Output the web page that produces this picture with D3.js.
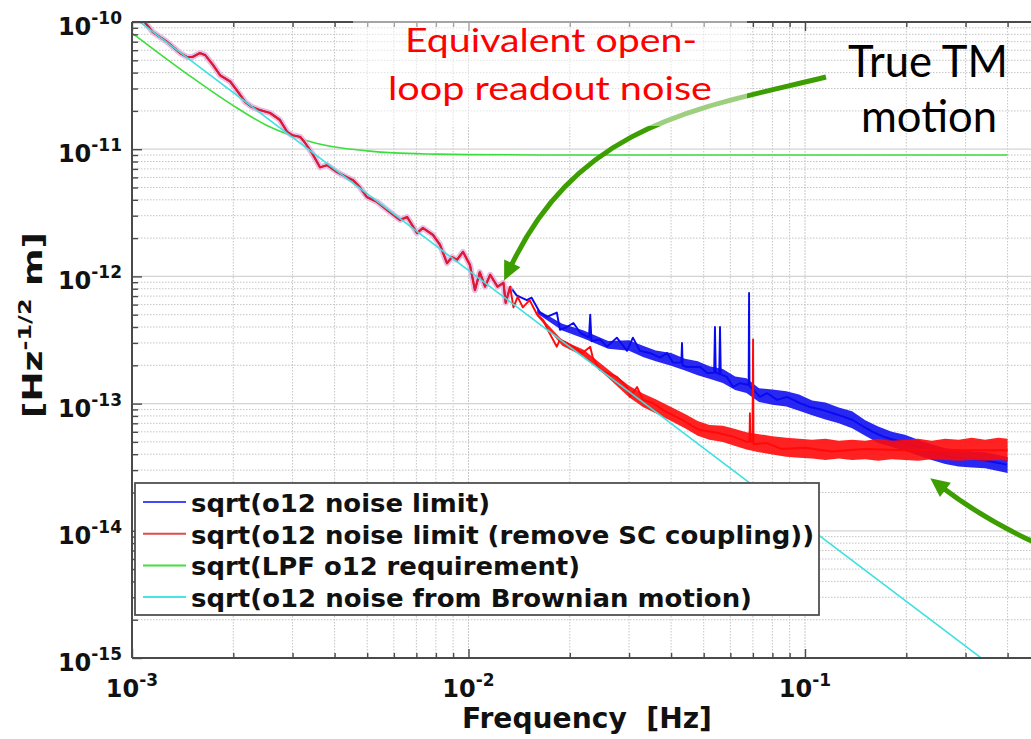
<!DOCTYPE html>
<html>
<head>
<meta charset="utf-8">
<script src="https://cdn.jsdelivr.net/npm/d3@7"></script>
<style>
  html, body { margin: 0; padding: 0; background: #fff; }
  svg { display: block; }
</style>
</head>
<body>
<svg id="chart" width="1031" height="739"></svg>
<script>
// ---------------- data ----------------
const xDecades = [1e-3, 1e-2, 1e-1];
const xTickLabels = ["-3", "-2", "-1"];
const yDecades = [1e-15, 1e-14, 1e-13, 1e-12, 1e-11, 1e-10];
const yTickLabels = ["-15", "-14", "-13", "-12", "-11", "-10"];

// Low-frequency part where both noise-limit estimates coincide
const sharedFreq = [1.00e-3, 1.09e-3, 1.155e-3, 1.27e-3, 1.39e-3, 1.46e-3, 1.51e-3, 1.59e-3, 1.65e-3, 1.74e-3,
  1.83e-3, 1.96e-3, 2.07e-3, 2.17e-3, 2.27e-3, 2.40e-3, 2.57e-3, 2.75e-3, 2.89e-3, 2.99e-3,
  3.16e-3, 3.27e-3, 3.43e-3, 3.62e-3, 3.80e-3, 4.07e-3, 4.36e-3, 4.54e-3, 4.76e-3, 4.99e-3,
  5.35e-3, 5.73e-3, 6.26e-3, 6.57e-3, 7.03e-3, 7.32e-3, 7.84e-3, 8.23e-3, 8.63e-3, 8.93e-3,
  9.24e-3, 9.63e-3, 1.01e-2, 1.045e-2, 1.08e-2, 1.12e-2, 1.16e-2, 1.22e-2, 1.27e-2, 1.29e-2, 1.33e-2];
const sharedVal = [1.25e-10, 1.00e-10, 8.3e-11, 7.0e-11, 5.7e-11, 5.3e-11, 5.3e-11, 5.7e-11, 5.5e-11, 4.6e-11,
  3.8e-11, 3.4e-11, 2.8e-11, 2.35e-11, 2.15e-11, 2.03e-11, 1.93e-11, 1.70e-11, 1.37e-11, 1.29e-11,
  1.25e-11, 1.12e-11, 9.3e-12, 7.2e-12, 7.5e-12, 6.6e-12, 6.0e-12, 5.7e-12, 5.0e-12, 4.2e-12,
  3.85e-12, 3.33e-12, 2.78e-12, 2.93e-12, 2.19e-12, 2.40e-12, 2.12e-12, 1.77e-12, 1.27e-12, 1.42e-12,
  1.35e-12, 1.56e-12, 1.23e-12, 7.8e-13, 1.08e-12, 8.3e-13, 1.03e-12, 8.3e-13, 8.9e-13, 6.2e-13, 8.3e-13];

// sqrt(o12 noise limit) above the shared part
const blueFreq = [1.39e-2, 1.49e-2, 1.54e-2, 1.63e-2, 1.71e-2, 1.83e-2, 1.87e-2, 1.96e-2, 2.05e-2, 2.15e-2,
  2.28e-2, 2.30e-2, 2.32e-2, 2.46e-2, 2.58e-2, 2.76e-2, 2.96e-2, 3.08e-2, 3.23e-2, 3.46e-2,
  3.71e-2, 3.89e-2, 4.05e-2, 4.29e-2, 4.31e-2, 4.33e-2, 4.46e-2, 4.88e-2, 5.12e-2, 5.37e-2,
  5.40e-2, 5.43e-2, 5.48e-2, 5.56e-2, 5.59e-2, 5.62e-2, 5.86e-2, 6.11e-2, 6.41e-2, 6.80e-2,
  6.82e-2, 6.84e-2, 7.35e-2, 7.71e-2, 8.26e-2, 8.84e-2, 9.66e-2, 0.1035, 0.113, 0.121,
  0.130, 0.139, 0.149, 0.159, 0.171, 0.183, 0.201, 0.220, 0.240, 0.270,
  0.303, 0.338, 0.380, 0.398];
const blueVal = [7.1e-13, 6.5e-13, 6.8e-13, 5.2e-13, 4.8e-13, 5.2e-13, 3.8e-13, 4.0e-13, 4.3e-13, 3.6e-13,
  3.3e-13, 5.0e-13, 3.1e-13, 3.2e-13, 2.8e-13, 3.3e-13, 2.6e-13, 3.3e-13, 2.6e-13, 2.5e-13,
  2.3e-13, 2.5e-13, 2.1e-13, 2.1e-13, 3.0e-13, 2.0e-13, 1.94e-13, 1.94e-13, 1.74e-13, 1.75e-13,
  4.0e-13, 1.75e-13, 1.74e-13, 1.7e-13, 4.0e-13, 1.7e-13, 1.62e-13, 1.35e-13, 1.45e-13, 1.4e-13,
  7.4e-13, 1.38e-13, 1.13e-13, 1.21e-13, 1.07e-13, 1.13e-13, 1.01e-13, 9.4e-14, 8.9e-14, 8.4e-14,
  7.9e-14, 7.4e-14, 6.6e-14, 6.0e-14, 5.5e-14, 5.2e-14, 4.9e-14, 4.5e-14, 4.1e-14, 3.8e-14,
  3.7e-14, 3.6e-14, 3.4e-14, 3.3e-14];

// sqrt(o12 noise limit (remove SC coupling)) above the shared part
const redFreq = [1.36e-2, 1.40e-2, 1.45e-2, 1.52e-2, 1.60e-2, 1.67e-2, 1.72e-2, 1.83e-2, 1.87e-2, 1.96e-2,
  2.05e-2, 2.18e-2, 2.30e-2, 2.34e-2, 2.46e-2, 2.58e-2, 2.76e-2, 2.96e-2, 3.02e-2, 3.17e-2,
  3.30e-2, 3.53e-2, 3.79e-2, 4.05e-2, 4.34e-2, 4.65e-2, 4.88e-2, 5.48e-2, 6.11e-2, 6.72e-2,
  6.84e-2, 6.86e-2, 6.88e-2, 6.98e-2, 7.01e-2, 7.03e-2, 7.71e-2, 8.5e-2, 0.100, 0.120,
  0.150, 0.200, 0.250, 0.300, 0.400];
const redVal = [5.7e-13, 6.9e-13, 5.7e-13, 6.5e-13, 5.0e-13, 4.5e-13, 3.8e-13, 2.8e-13, 3.2e-13, 3.0e-13,
  2.8e-13, 2.5e-13, 2.8e-13, 2.3e-13, 1.84e-13, 1.74e-13, 1.62e-13, 1.35e-13, 1.13e-13, 1.35e-13,
  1.07e-13, 1.01e-13, 8.9e-14, 8.1e-14, 7.4e-14, 6.6e-14, 6.2e-14, 5.9e-14, 5.5e-14, 5.0e-14,
  5.0e-14, 8.4e-14, 5.0e-14, 5.0e-14, 3.2e-13, 4.8e-14, 4.9e-14, 4.4e-14, 4.5e-14, 4.2e-14,
  4.4e-14, 4.3e-14, 4.35e-14, 4.3e-14, 4.3e-14];

// spread of the dense high-frequency spectra
const bandFreq = [0.016, 0.019, 0.022, 0.026, 0.030, 0.033, 0.036, 0.040, 0.044, 0.048,
  0.052, 0.057, 0.062, 0.067, 0.073, 0.080, 0.088, 0.096, 0.105, 0.115,
  0.126, 0.138, 0.151, 0.165, 0.181, 0.198, 0.217, 0.238, 0.261, 0.286,
  0.313, 0.343, 0.375, 0.400];
const blueUpper = [5.5e-13, 4.25e-13, 3.75e-13, 3.1e-13, 3.15e-13, 2.85e-13, 2.62e-13, 2.5e-13, 2.25e-13, 2.15e-13,
  1.97e-13, 1.87e-13, 1.63e-13, 1.58e-13, 1.32e-13, 1.29e-13, 1.25e-13, 1.18e-13, 1.06e-13, 1.02e-13,
  9.3e-14, 8.7e-14, 7.4e-14, 6.6e-14, 6.0e-14, 5.7e-14, 5.2e-14, 4.8e-14, 4.45e-14, 4.35e-14,
  4.2e-14, 4.15e-14, 3.95e-14, 3.8e-14];
const blueLower = [5.1e-13, 3.75e-13, 3.25e-13, 2.7e-13, 2.6e-13, 2.32e-13, 2.15e-13, 1.98e-13, 1.82e-13, 1.67e-13,
  1.57e-13, 1.45e-13, 1.28e-13, 1.21e-13, 1.03e-13, 9.8e-14, 9.5e-14, 8.8e-14, 8.1e-14, 7.5e-14,
  7.0e-14, 6.4e-14, 5.6e-14, 4.9e-14, 4.55e-14, 4.25e-14, 3.9e-14, 3.6e-14, 3.35e-14, 3.2e-14,
  3.15e-14, 3.1e-14, 2.95e-14, 2.85e-14];
const redUpper = [5.15e-13, 3.15e-13, 2.65e-13, 1.85e-13, 1.38e-13, 1.2e-13, 1.08e-13, 9.4e-14, 8.3e-14, 7.3e-14,
  6.8e-14, 6.7e-14, 6.3e-14, 5.95e-14, 5.75e-14, 5.55e-14, 5.4e-14, 5.3e-14, 5.2e-14, 5.3e-14,
  5.1e-14, 5.2e-14, 5.1e-14, 5.3e-14, 5.1e-14, 5.2e-14, 5.3e-14, 5.1e-14, 5.3e-14, 5.2e-14,
  5.4e-14, 5.2e-14, 5.4e-14, 5.3e-14];
const redLower = [4.85e-13, 2.85e-13, 2.35e-13, 1.6e-13, 1.12e-13, 9.4e-14, 8.4e-14, 7.3e-14, 6.4e-14, 5.6e-14,
  5.2e-14, 5.0e-14, 4.65e-14, 4.35e-14, 4.15e-14, 3.98e-14, 3.82e-14, 3.75e-14, 3.7e-14, 3.6e-14,
  3.7e-14, 3.6e-14, 3.65e-14, 3.55e-14, 3.65e-14, 3.6e-14, 3.55e-14, 3.65e-14, 3.6e-14, 3.55e-14,
  3.6e-14, 3.55e-14, 3.6e-14, 3.55e-14];

// sqrt(LPF o12 requirement)
const reqFreq = [1.0e-3, 1.2e-3, 1.5e-3, 2.0e-3, 2.5e-3, 3.0e-3, 3.5e-3, 4.0e-3, 5.0e-3, 6.0e-3,
  8.0e-3, 1.0e-2, 2.0e-2, 0.1, 0.4];
const reqVal = [8.2e-11, 5.7e-11, 3.7e-11, 2.2e-11, 1.55e-11, 1.27e-11, 1.12e-11, 1.04e-11, 9.7e-12, 9.35e-12,
  9.15e-12, 9.07e-12, 9.0e-12, 9.0e-12, 9.0e-12];

// sqrt(o12 noise from Brownian motion)
const brownFreq = [1.0e-3, 0.4];
const brownVal = [1.115e-10, 6.97e-16];

const legendLabels = [
  "sqrt(o12 noise limit)",
  "sqrt(o12 noise limit (remove SC coupling))",
  "sqrt(LPF o12 requirement)",
  "sqrt(o12 noise from Brownian motion)"
];
const legendWidths = [299, 623, 389, 561];
const seriesColors = ["#0a0af0", "#ff0a0a", "#3ddd3d", "#3ee0e0"];
const legendColors = ["#4646ff", "#e04a4a", "#40e040", "#48e4e4"];

// ---------------- layout ----------------
const svg = d3.select("#chart");
const plot = { left: 132, top: 22, bottom: 658, right: 1141.5 };
const x = d3.scaleLog().domain([1e-3, 1]).range([plot.left, plot.right]);
const y = d3.scaleLog().domain([1e-15, 1e-10]).range([plot.bottom, plot.top]);

const defs = svg.append("defs");
defs.append("clipPath").attr("id", "plotClip")
  .append("rect")
  .attr("x", plot.left).attr("y", plot.top)
  .attr("width", plot.right - plot.left).attr("height", plot.bottom - plot.top);

const xMinor = [], yMinor = [];
xDecades.forEach(d => { for (let k = 2; k <= 9; k++) xMinor.push(d * k); });
yDecades.slice(0, -1).forEach(d => { for (let k = 2; k <= 9; k++) yMinor.push(d * k); });
const xMajor = xDecades.concat([1]);

// ---------------- grid ----------------
const grid = svg.append("g").attr("clip-path", "url(#plotClip)");
grid.selectAll(".gxm").data(xMinor).join("line")
  .attr("x1", d => x(d)).attr("x2", d => x(d))
  .attr("y1", plot.top).attr("y2", plot.bottom)
  .attr("stroke", "#c4c4c4").attr("stroke-width", 1).attr("stroke-dasharray", "1.5,1.5");
grid.selectAll(".gxM").data(xMajor).join("line")
  .attr("x1", d => x(d)).attr("x2", d => x(d))
  .attr("y1", plot.top).attr("y2", plot.bottom)
  .attr("stroke", "#c8c8c8").attr("stroke-width", 1).attr("stroke-dasharray", "2,1");
grid.selectAll(".gym").data(yMinor).join("line")
  .attr("x1", plot.left).attr("x2", plot.right)
  .attr("y1", d => y(d)).attr("y2", d => y(d))
  .attr("stroke", "#c4c4c4").attr("stroke-width", 1).attr("stroke-dasharray", "1.5,1.5");
grid.selectAll(".gyM").data(yDecades).join("line")
  .attr("x1", plot.left).attr("x2", plot.right)
  .attr("y1", d => y(d)).attr("y2", d => y(d))
  .attr("stroke", "#d4d4d4").attr("stroke-width", 1.2);

// ---------------- series ----------------
const line = d3.line().x(d => x(d[0])).y(d => y(d[1]));
const band = d3.area().x(d => x(d[0])).y0(d => y(d[1])).y1(d => y(d[2]));
const data = svg.append("g").attr("clip-path", "url(#plotClip)");

const shared = d3.zip(sharedFreq, sharedVal);
const blue = shared.concat(d3.zip(blueFreq, blueVal));
const red = shared.concat(d3.zip(redFreq, redVal));

data.append("path").datum(d3.zip(reqFreq, reqVal))
  .attr("d", line.curve(d3.curveMonotoneX)).attr("fill", "none")
  .attr("stroke", seriesColors[2]).attr("stroke-width", 1.6);
line.curve(d3.curveLinear);

data.append("path").datum(d3.zip(bandFreq, blueLower, blueUpper))
  .attr("d", band).attr("fill", seriesColors[0]).attr("opacity", 0.88);
data.append("path").datum(blue)
  .attr("d", line).attr("fill", "none")
  .attr("stroke", seriesColors[0]).attr("stroke-width", 1.9).attr("stroke-linejoin", "round");

data.append("path").datum(shared)
  .attr("d", line).attr("fill", "none")
  .attr("stroke", "#e2b4e2").attr("stroke-width", 6).attr("stroke-linejoin", "round")
  .attr("opacity", 0.85);
data.append("path").datum(d3.zip(bandFreq, redLower, redUpper))
  .attr("d", band).attr("fill", seriesColors[1]).attr("opacity", 0.9);
data.append("path").datum(red)
  .attr("d", line).attr("fill", "none")
  .attr("stroke", seriesColors[1]).attr("stroke-width", 1.9).attr("stroke-linejoin", "round");
data.append("path").datum(shared)
  .attr("d", line).attr("fill", "none")
  .attr("stroke", "#dc1a36").attr("stroke-width", 2).attr("stroke-linejoin", "round");

data.append("path").datum(d3.zip(brownFreq, brownVal))
  .attr("d", line).attr("fill", "none")
  .attr("stroke", seriesColors[3]).attr("stroke-width", 1.6);

// ---------------- axes ----------------
const axisColor = "#4a4a4a";
function styleAxis(g) {
  g.select(".domain").remove();
  g.selectAll(".tick line").attr("stroke", axisColor).attr("stroke-width", 1.4);
}
svg.append("g").attr("transform", `translate(0,${plot.bottom})`)
  .call(d3.axisBottom(x).tickValues(xMinor).tickSize(-5).tickFormat("")).call(styleAxis);
svg.append("g").attr("transform", `translate(0,${plot.bottom})`)
  .call(d3.axisBottom(x).tickValues(xMajor).tickSize(-9).tickFormat("")).call(styleAxis);
svg.append("g").attr("transform", `translate(0,${plot.top})`)
  .call(d3.axisTop(x).tickValues(xMinor).tickSize(-5).tickFormat("")).call(styleAxis);
svg.append("g").attr("transform", `translate(0,${plot.top})`)
  .call(d3.axisTop(x).tickValues(xMajor).tickSize(-9).tickFormat("")).call(styleAxis);
svg.append("g").attr("transform", `translate(${plot.left},0)`)
  .call(d3.axisLeft(y).tickValues(yMinor).tickSize(-6).tickFormat("")).call(styleAxis);
svg.append("g").attr("transform", `translate(${plot.left},0)`)
  .call(d3.axisLeft(y).tickValues(yDecades).tickSize(-10).tickFormat("")).call(styleAxis);

// frame
const frame = svg.append("g").attr("stroke", axisColor).attr("stroke-width", 2).attr("fill", "none");
frame.append("line").attr("x1", plot.left).attr("x2", plot.left).attr("y1", plot.top).attr("y2", plot.bottom);
frame.append("line").attr("x1", plot.left).attr("x2", plot.right).attr("y1", plot.bottom).attr("y2", plot.bottom);
frame.append("line").attr("x1", plot.left).attr("x2", plot.right).attr("y1", plot.top).attr("y2", plot.top);

// tick labels (powers of ten)
const labelFont = "'DejaVu Sans', sans-serif";
function powerLabel(sel, exp) {
  sel.append("tspan").text("10");
  sel.append("tspan").attr("dy", -11).attr("font-size", 17).text(exp);
}
xDecades.forEach((d, i) => {
  svg.append("text")
    .attr("x", x(d)).attr("y", 697)
    .attr("text-anchor", "middle")
    .attr("font-family", labelFont).attr("font-weight", "bold").attr("font-size", 24)
    .attr("fill", "#111")
    .call(powerLabel, xTickLabels[i]);
});
yDecades.forEach((d, i) => {
  svg.append("text")
    .attr("x", 122).attr("y", y(d) + 13)
    .attr("text-anchor", "end")
    .attr("font-family", labelFont).attr("font-weight", "bold").attr("font-size", 24)
    .attr("fill", "#111")
    .call(powerLabel, yTickLabels[i]);
});

// axis titles
svg.append("text")
  .attr("x", 587).attr("y", 728).attr("text-anchor", "middle")
  .attr("font-family", labelFont).attr("font-weight", "bold").attr("font-size", 28)
  .attr("textLength", 250).attr("lengthAdjust", "spacingAndGlyphs")
  .style("white-space", "pre").attr("fill", "#111")
  .text("Frequency  [Hz]");

const yTitle = svg.append("text")
  .attr("transform", "translate(42,325) rotate(-90)")
  .attr("text-anchor", "middle")
  .attr("font-family", labelFont).attr("font-weight", "bold").attr("font-size", 27)
  .attr("textLength", 186).attr("lengthAdjust", "spacingAndGlyphs")
  .style("white-space", "pre").attr("fill", "#111");
yTitle.append("tspan").text("[Hz");
yTitle.append("tspan").attr("dy", -11).attr("font-size", 18).text("-1/2");
yTitle.append("tspan").attr("dy", 11).text(" m]");

// ---------------- legend ----------------
const legend = svg.append("g");
legend.append("rect")
  .attr("x", 135).attr("y", 483).attr("width", 684).attr("height", 132)
  .attr("fill", "#fff").attr("stroke", "#505050").attr("stroke-width", 1.8);
legendLabels.forEach((lab, i) => {
  const ly = 502 + i * 31.7;
  legend.append("line")
    .attr("x1", 143).attr("x2", 186).attr("y1", ly).attr("y2", ly)
    .attr("stroke", legendColors[i]).attr("stroke-width", 2);
  legend.append("text")
    .attr("x", 191).attr("y", ly + 10)
    .attr("font-family", labelFont).attr("font-weight", "bold").attr("font-size", 24)
    .attr("textLength", legendWidths[i]).attr("lengthAdjust", "spacingAndGlyphs")
    .attr("fill", "#111")
    .text(lab);
});

// ---------------- annotations ----------------
const arrowGreen = "#3c9e00";
function arrow(g, p0, c1, c2, p3) {
  const path = d3.path();
  path.moveTo(p0[0], p0[1]);
  if (c2) path.bezierCurveTo(c1[0], c1[1], c2[0], c2[1], p3[0], p3[1]);
  else path.quadraticCurveTo(c1[0], c1[1], p3[0], p3[1]);
  g.append("path").attr("d", path.toString())
    .attr("fill", "none").attr("stroke", arrowGreen).attr("stroke-width", 5);
  const from = c2 || c1;
  const dx = p3[0] - from[0], dy = p3[1] - from[1];
  const len = Math.hypot(dx, dy), ux = dx / len, uy = dy / len;
  const px = -uy, py = ux;
  const tip = [p3[0] + ux * 16, p3[1] + uy * 16];
  const b = [p3[0] - ux * 3, p3[1] - uy * 3];
  g.append("polygon")
    .attr("points", [tip, [b[0] + px * 9, b[1] + py * 9], [b[0] - px * 9, b[1] - py * 9]].map(p => p.join(",")).join(" "))
    .attr("fill", arrowGreen);
}
const notes = svg.append("g");
arrow(notes, [826, 77], [700, 108], [580, 122], [511, 266]);

// translucent backing of the red caption
notes.append("rect")
  .attr("x", 353).attr("y", 0).attr("width", 394).attr("height", 126)
  .attr("fill", "#fff").attr("opacity", 0.5);

const noteFont = "Lato, 'Open Sans', sans-serif";
notes.append("text").attr("x", 405).attr("y", 52)
  .attr("font-family", noteFont).attr("font-size", 33).attr("fill", "#ff0000")
  .attr("textLength", 292).attr("lengthAdjust", "spacingAndGlyphs")
  .text("Equivalent open-");
notes.append("text").attr("x", 388).attr("y", 100)
  .attr("font-family", noteFont).attr("font-size", 33).attr("fill", "#ff0000")
  .attr("textLength", 324).attr("lengthAdjust", "spacingAndGlyphs")
  .text("loop readout noise");
notes.append("text").attr("x", 848).attr("y", 77)
  .attr("font-family", noteFont).attr("font-size", 44).attr("fill", "#000")
  .attr("textLength", 160).attr("lengthAdjust", "spacingAndGlyphs")
  .text("True TM");
notes.append("text").attr("x", 861).attr("y", 132)
  .attr("font-family", noteFont).attr("font-size", 44).attr("fill", "#000")
  .attr("textLength", 136).attr("lengthAdjust", "spacingAndGlyphs")
  .text("motion");

arrow(notes, [1040, 545], [985, 520], null, [943, 488]);
</script>
</body>
</html>
